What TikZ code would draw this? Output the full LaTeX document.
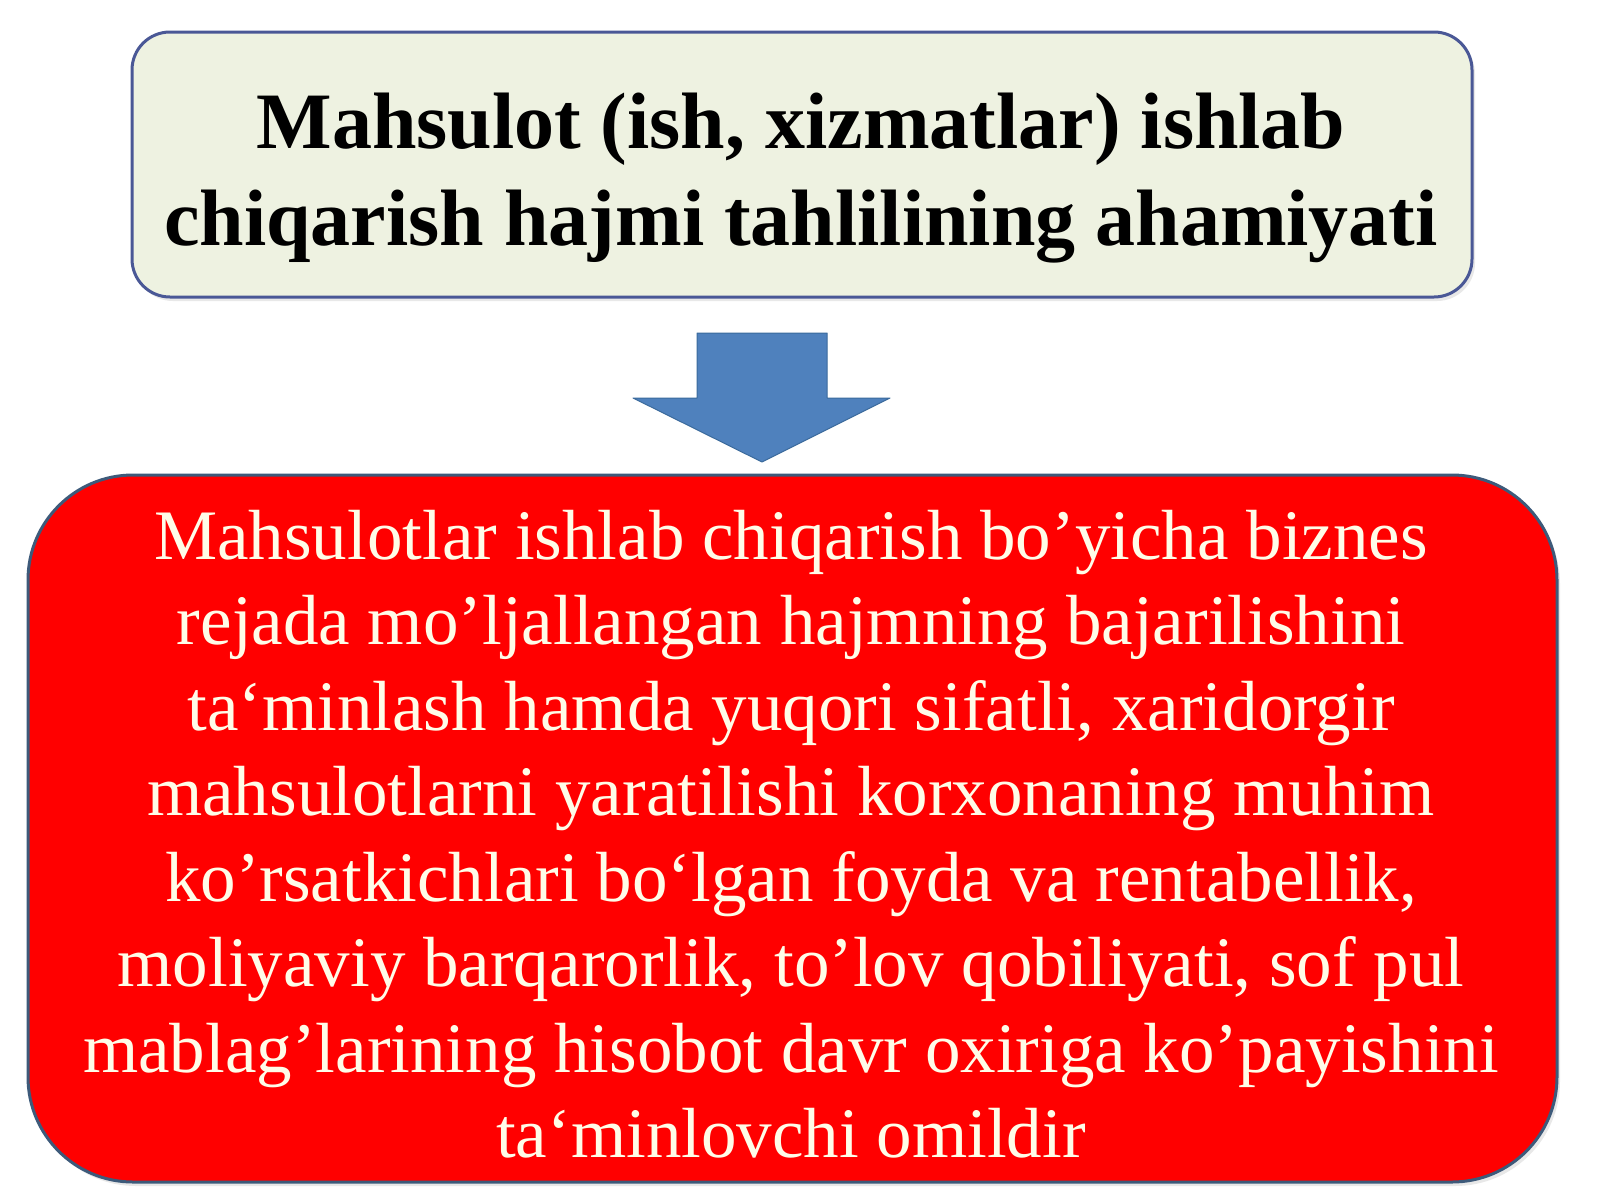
\documentclass[tikz,border=0pt]{standalone}
\usepackage{fontspec}
\setmainfont{Liberation Serif}
\usetikzlibrary{shadows}
\definecolor{topfill}{HTML}{EEF2E1}
\definecolor{topdraw}{HTML}{4A5896}
\definecolor{redfill}{HTML}{FF0000}
\definecolor{reddraw}{HTML}{3D5A7A}
\definecolor{arrowfill}{HTML}{4F81BD}
\definecolor{arrowdraw}{HTML}{3B6A9C}
\definecolor{ivorytext}{HTML}{FFFCE8}
\tikzset{
  boxshadow/.style={drop shadow={opacity=0.18, shadow xshift=3pt, shadow yshift=-4pt}},
  titlebox/.style={rectangle, rounded corners=38pt, fill=topfill, draw=topdraw, line width=3pt, boxshadow, inner sep=0pt},
  infobox/.style={rectangle, rounded corners=105pt, fill=redfill, draw=reddraw, line width=3pt, boxshadow, inner sep=0pt},
  blockarrow/.style={fill=arrowfill, draw=arrowdraw, line width=1pt, line join=round},
}
\begin{document}
\begin{tikzpicture}[x=1pt,y=-1pt]
\useasboundingbox (0,0) rectangle (1600,1200);
\fill[white] (0,0) rectangle (1600,1200);
% title box
\node[titlebox, minimum width=1340pt, minimum height=265pt] (top) at (802,164.5) {};
\node[font=\bfseries\fontsize{80}{97}\selectfont, align=center, anchor=north, inner sep=0pt] (toptext) at (801,93)
  {Mahsulot (ish, xizmatlar) ishlab\\chiqarish hajmi tahlilining ahamiyati};
% red box
\node[infobox, minimum width=1529pt, minimum height=707pt] (info) at (792.5,828.5) {};
\node[text=ivorytext, font=\fontsize{71}{85.5}\selectfont, align=center, anchor=north, inner sep=0pt] (infotext) at (791,510)
  {Mahsulotlar ishlab chiqarish bo’yicha biznes\\
   rejada mo’ljallangan hajmning bajarilishini\\
   ta‘minlash hamda yuqori sifatli, xaridorgir\\
   mahsulotlarni yaratilishi korxonaning muhim\\
   ko’rsatkichlari bo‘lgan foyda va rentabellik,\\
   moliyaviy barqarorlik, to’lov qobiliyati, sof pul\\
   mablag’larining hisobot davr oxiriga ko’payishini\\
   ta‘minlovchi omildir};
% block arrow between the boxes
\coordinate (tip) at (762,462);
\draw[blockarrow] (tip) -- ++(-129,-64) -- ++(64,0) -- ++(0,-65) -- ++(130,0) -- ++(0,65) -- ++(63,0) -- cycle;
\end{tikzpicture}
\end{document}
